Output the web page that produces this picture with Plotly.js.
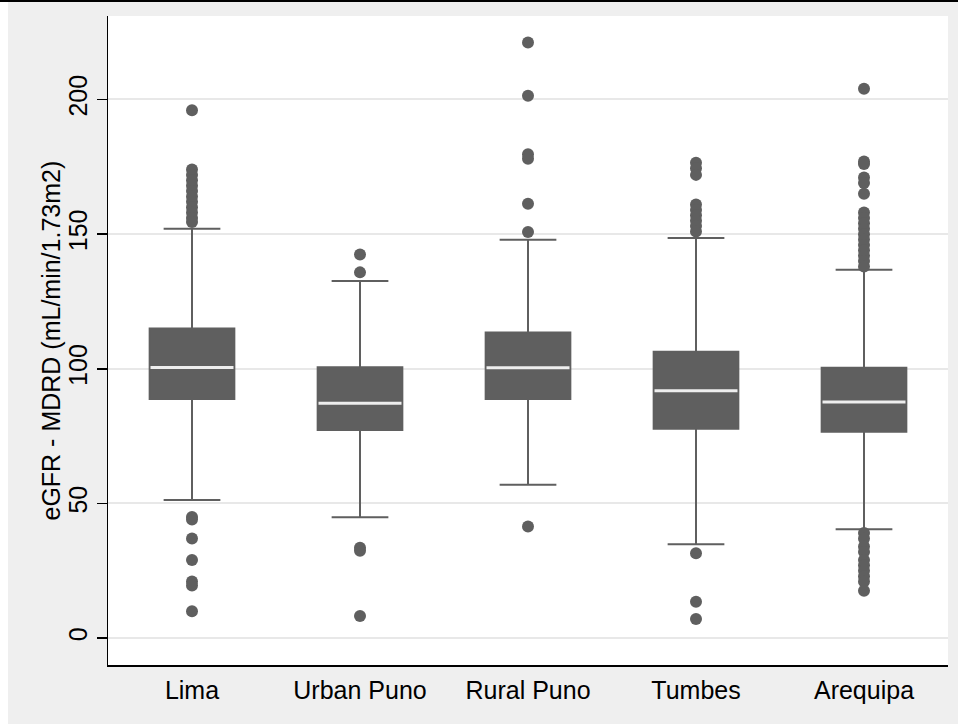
<!DOCTYPE html>
<html>
<head>
<meta charset="utf-8">
<script src="https://cdn.plot.ly/plotly-3.0.1.min.js"></script>
<style>
  html, body { margin: 0; padding: 0; background: #ffffff; }
  #chart { width: 958px; height: 724px; }
</style>
</head>
<body>
<div id="chart"></div>
<script>
// ---- data ----
var categories = ['Lima', 'Urban Puno', 'Rural Puno', 'Tumbes', 'Arequipa'];
var q1Values = [88.8, 77.3, 88.8, 77.7, 76.6];
var medianValues = [100.5, 87.2, 100.4, 91.8, 87.7];
var q3Values = [115.0, 100.6, 113.5, 106.3, 100.4];
var lowerWhiskers = [51.3, 44.9, 56.9, 34.8, 40.4];
var upperWhiskers = [152.0, 132.6, 147.9, 148.6, 136.8];

var limaOutliers = [196, 174, 172, 170, 168, 166, 164, 162, 160, 158, 156, 154.5, 45, 44, 37, 29, 21, 19.5, 10];
var urbanPunoOutliers = [142.4, 135.8, 33.5, 32.4, 8.2];
var ruralPunoOutliers = [221.2, 201.4, 179.7, 178, 161.3, 150.8, 41.4];
var tumbesOutliers = [176.5, 174.5, 172, 161, 159, 157, 155, 153, 151, 31.5, 13.5, 7.1];
var arequipaOutliers = [204, 177, 176, 171, 169, 165, 158, 156, 154, 152, 150, 148, 146, 144, 142, 140, 138, 39, 37, 34, 32, 29, 27, 25, 23, 21, 17.6];

var yTickValues = [0, 50, 100, 150, 200];
var yTitle = 'eGFR - MDRD (mL/min/1.73m2)';

// ---- build traces ----
var outlierGroups = [limaOutliers, urbanPunoOutliers, ruralPunoOutliers, tumbesOutliers, arequipaOutliers];
var outX = [], outY = [];
outlierGroups.forEach(function (arr, i) {
  arr.forEach(function (v) { outX.push(categories[i]); outY.push(v); });
});

var grey = '#5f5f5f';
var boxWidth = 0.504;

var boxTrace = {
  type: 'box',
  x: categories,
  q1: q1Values,
  median: medianValues,
  q3: q3Values,
  lowerfence: lowerWhiskers,
  upperfence: upperWhiskers,
  boxpoints: false,
  fillcolor: grey,
  line: { color: grey, width: 2 },
  width: boxWidth,
  whiskerwidth: 0.67,
  showlegend: false,
  hoverinfo: 'skip'
};

var medianTrace = {
  type: 'box',
  x: categories,
  q1: medianValues,
  median: medianValues,
  q3: medianValues,
  lowerfence: medianValues,
  upperfence: medianValues,
  boxpoints: false,
  fillcolor: 'rgba(0,0,0,0)',
  line: { color: '#eeeeee', width: 3 },
  width: boxWidth - 0.01,
  whiskerwidth: 0,
  showlegend: false,
  hoverinfo: 'skip'
};

var outlierTrace = {
  type: 'scatter',
  mode: 'markers',
  x: outX,
  y: outY,
  marker: { color: grey, size: 12, line: { width: 0 } },
  showlegend: false,
  hoverinfo: 'skip'
};

var W = 958, H = 724;
var ml = 108, mr = 10, mt = 16, mb = 59;
var pw = W - ml - mr, ph = H - mt - mb;
function px2x(px) { return (px - ml) / pw; }
function py2y(py) { return 1 - (py - mt) / ph; }

var fontFam = 'Liberation Sans, Arial, sans-serif';

var layout = {
  width: W,
  height: H,
  margin: { l: ml, r: mr, t: mt, b: mb, pad: 0 },
  paper_bgcolor: '#efefef',
  plot_bgcolor: '#ffffff',
  boxmode: 'overlay',
  font: { family: fontFam, size: 25, color: '#000000' },
  xaxis: {
    type: 'category',
    range: [-0.5, 4.5],
    showgrid: false,
    zeroline: false,
    showline: true,
    linecolor: '#000000',
    linewidth: 1.5,
    ticks: '',
    ticklabelstandoff: 2,
    tickfont: { family: fontFam, size: 25, color: '#000000' },
    fixedrange: true
  },
  yaxis: {
    range: [-10, 231],
    tickmode: 'array',
    tickvals: yTickValues,
    ticktext: yTickValues.map(String),
    tickangle: -90,
    ticks: 'outside',
    ticklen: 10,
    tickwidth: 1.5,
    tickcolor: '#000000',
    showline: true,
    linecolor: '#000000',
    linewidth: 1.5,
    showgrid: true,
    gridcolor: '#e8e8e8',
    gridwidth: 2,
    zeroline: false,
    tickfont: { family: fontFam, size: 25, color: '#000000' },
    automargin: false,
    fixedrange: true
  },
  annotations: [
    { text: yTitle, xref: 'paper', yref: 'paper', x: px2x(50), y: 0.5,
      xanchor: 'center', yanchor: 'middle', textangle: -90, showarrow: false,
      font: { family: fontFam, size: 25, color: '#000000' } }
  ],
  shapes: [
    { type: 'rect', xref: 'paper', yref: 'paper', layer: 'below',
      x0: px2x(-2), x1: px2x(8), y0: py2y(H + 2), y1: py2y(2),
      fillcolor: '#ffffff', line: { width: 0 } },
    { type: 'line', xref: 'paper', yref: 'paper',
      x0: px2x(0), x1: px2x(W), y0: py2y(1), y1: py2y(1),
      line: { color: '#000000', width: 2 } }
  ]
};

Plotly.newPlot('chart', [boxTrace, medianTrace, outlierTrace], layout, { displayModeBar: false, staticPlot: true });
</script>
</body>
</html>
